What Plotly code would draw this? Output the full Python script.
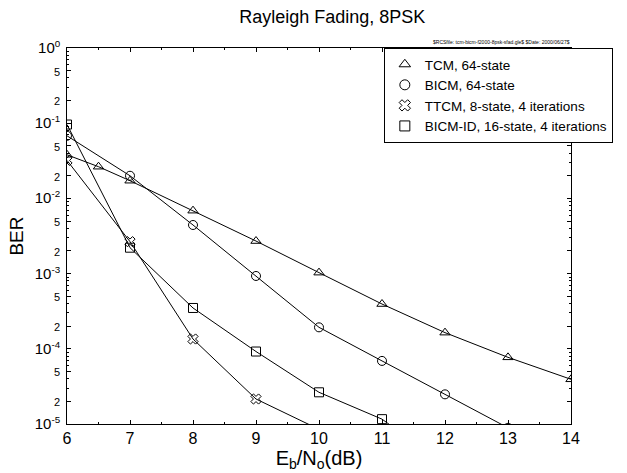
import plotly.graph_objects as go

snr_tcm = [6, 6.5, 7, 8, 9, 10, 11, 12, 13, 14]
ber_tcm = [0.038, 0.0264, 0.0172, 0.00687, 0.00271, 0.00103, 3.94e-4, 1.64e-4, 7.7e-5, 3.93e-5]

snr_bicm = [6, 7, 8, 9, 10, 11, 12, 13]
ber_bicm = [0.068, 0.020, 0.00443, 9.3e-4, 1.93e-4, 6.9e-5, 2.48e-5, 8.9e-6]

snr_ttcm = [6, 7, 8, 9, 10]
ber_ttcm = [0.032, 0.00266, 1.35e-4, 2.15e-5, 8.5e-6]

snr_bicmid = [6, 7, 8, 9, 10, 11, 12]
ber_bicmid = [0.096, 0.00221, 3.49e-4, 9.2e-5, 2.64e-5, 1.16e-5, 2.9e-6]

names = ["TCM, 64-state", "BICM, 64-state", "TTCM, 8-state, 4 iterations", "BICM-ID, 16-state, 4 iterations"]
symbols = ["triangle-up-open", "circle-open", "x-open", "square-open"]

x_ticks = [6, 7, 8, 9, 10, 11, 12, 13, 14]
decades = [-5, -4, -3, -2, -1, 0]

FONT = "Liberation Sans, Arial, sans-serif"

fig = go.Figure()
series = [(snr_tcm, ber_tcm), (snr_bicm, ber_bicm), (snr_ttcm, ber_ttcm), (snr_bicmid, ber_bicmid)]
for (xs, ys), nm, sym in zip(series, names, symbols):
    fig.add_trace(go.Scatter(x=xs, y=ys, mode="lines+markers", showlegend=False,
                             line=dict(color="black", width=1),
                             marker=dict(symbol=sym, size=9, color="black", line=dict(width=1, color="black"))))
for nm, sym in zip(names, symbols):
    fig.add_trace(go.Scatter(x=[None], y=[None], mode="markers", name=nm,
                             marker=dict(symbol=sym, size=10, color="black", line=dict(width=1, color="black"))))

yvals, ytext, yminor = [], [], []
for d in decades:
    yvals.append(10.0 ** d)
    ytext.append('<span style="font-size:15px">10</span><sup>%d</sup>' % d)
    if d < 0:
        for m in (2, 5):
            yvals.append(m * 10.0 ** d)
            ytext.append('<span style="font-size:11px">%d</span>' % m)
        for m in range(2, 10):
            yminor.append(m * 10.0 ** d)

fig.update_layout(
    width=627, height=473,
    margin=dict(l=67, r=56, t=48, b=49),
    paper_bgcolor="white", plot_bgcolor="white",
    font=dict(family=FONT, color="black"),
    title=dict(text="Rayleigh Fading, 8PSK", x=0.53, xanchor="center", y=0.965, yanchor="middle",
               font=dict(size=18, family=FONT, color="black")),
    legend=dict(x=1.083, xanchor="right", y=1.0, yanchor="top", bgcolor="white",
                bordercolor="black", borderwidth=1, font=dict(size=13.5, family=FONT),
                itemwidth=30, tracegroupgap=0),
    xaxis=dict(range=[6, 14], tickvals=x_ticks, ticktext=[str(v) for v in x_ticks],
               showgrid=False, zeroline=False, showline=True, linecolor="black", linewidth=1,
               mirror="ticks", ticks="inside", ticklen=4, tickcolor="black",
               minor=dict(tickvals=[6.5 + i for i in range(8)], ticks="inside", ticklen=2, tickcolor="black"),
               tickfont=dict(size=16, family=FONT),
               title=dict(text="E<sub>b</sub>/N<sub>o</sub>(dB)", font=dict(size=20, family=FONT), standoff=0)),
    yaxis=dict(type="log", range=[-5, 0], tickvals=yvals, ticktext=ytext,
               showgrid=False, zeroline=False, showline=True, linecolor="black", linewidth=1,
               mirror="ticks", ticks="inside", ticklen=4, tickcolor="black",
               minor=dict(tickvals=yminor, ticks="inside", ticklen=2, tickcolor="black"),
               tickfont=dict(size=14, family=FONT), ticklabelstandoff=3,
               title=dict(text="BER", font=dict(size=19, family=FONT), standoff=6)),
)

fig.add_annotation(text="$RCSfile: tcm-bicm-f2000-8psk-sfad.gle$ $Date: 2000/06/27$",
                   xref="paper", yref="paper", x=0.863, y=1.0, xanchor="center", yanchor="bottom",
                   yshift=1, showarrow=False, font=dict(size=5, family=FONT, color="black"))

fig.write_html("out.html")
